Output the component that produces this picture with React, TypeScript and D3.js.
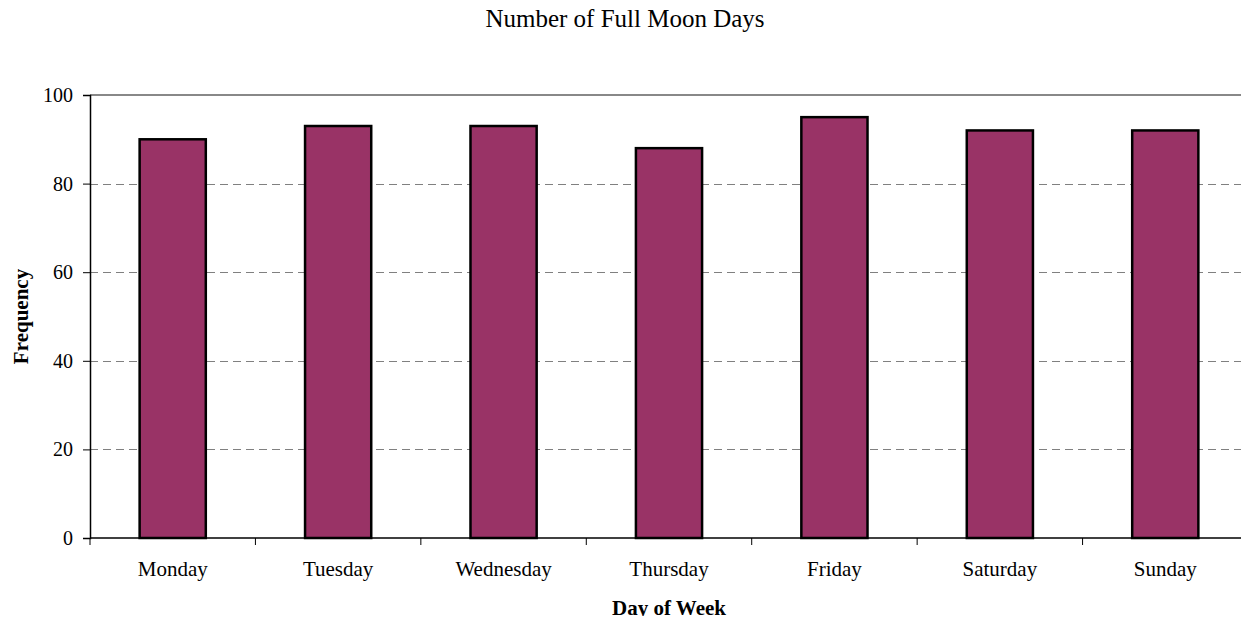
import React, { useEffect, useRef } from "react";
import * as d3 from "d3";

const days = ["Monday", "Tuesday", "Wednesday", "Thursday", "Friday", "Saturday", "Sunday"];
const frequency = [90, 93, 93, 88, 95, 92, 92];
const yTicks = [0, 20, 40, 60, 80, 100];

const App = () => {
  const ref = useRef<SVGSVGElement>(null);

  useEffect(() => {
    const width = 1249;
    const height = 624;
    const margin = { top: 95, right: 1, bottom: 86, left: 90 };
    const w = width - margin.left - margin.right;
    const h = height - margin.top - margin.bottom;
    const font = "'Liberation Serif', 'Times New Roman', serif";

    const svg = d3.select(ref.current);
    svg.selectAll("*").remove();

    // title
    svg
      .append("text")
      .attr("x", 625)
      .attr("y", 27)
      .attr("text-anchor", "middle")
      .style("font-family", font)
      .style("font-size", "25px")
      .text("Number of Full Moon Days");

    const g = svg.append("g").attr("transform", "translate(" + margin.left + "," + margin.top + ")");

    const x = d3.scaleBand().domain(days).range([0, w]).paddingInner(0.6).paddingOuter(0.3);
    const y = d3.scaleLinear().domain([0, 100]).range([h, 0]);

    // right border of plot area
    g.append("line")
      .attr("x1", w)
      .attr("x2", w)
      .attr("y1", 0)
      .attr("y2", h)
      .attr("stroke", "#c8c8c8")
      .attr("stroke-width", 1);

    // gridlines
    g.selectAll(".grid")
      .data(yTicks.filter((t) => t > 0 && t < 100))
      .enter()
      .append("line")
      .attr("x1", 0)
      .attr("x2", w)
      .attr("y1", (d) => Math.round(y(d)) + 0.5)
      .attr("y2", (d) => Math.round(y(d)) + 0.5)
      .attr("stroke", "#808080")
      .attr("stroke-width", 1)
      .attr("stroke-dasharray", "8,5");

    // top line
    g.append("line")
      .attr("x1", 0)
      .attr("x2", w)
      .attr("y1", y(100))
      .attr("y2", y(100))
      .attr("stroke", "#888")
      .attr("stroke-width", 2);

    // bars
    g.selectAll(".bar")
      .data(frequency)
      .enter()
      .append("rect")
      .attr("x", (d, i) => x(days[i])!)
      .attr("y", (d) => y(d))
      .attr("width", x.bandwidth())
      .attr("height", (d) => h - y(d))
      .attr("fill", "#993366")
      .attr("stroke", "#000")
      .attr("stroke-width", 2.5);

    // y axis
    const yAxis = g
      .append("g")
      .call(d3.axisLeft(y).tickValues(yTicks).tickSize(7).tickPadding(10).tickFormat(d3.format("d")));
    yAxis.select(".domain").attr("stroke", "#000").attr("stroke-width", 1.5);
    yAxis.selectAll("text").style("font-family", font).style("font-size", "20px").attr("fill", "#000");

    // x axis
    const step = x.step();
    const boundaries = d3.range(days.length + 1).map((i) => i * step);
    const xAxis = g.append("g").attr("transform", "translate(0," + h + ")");
    xAxis
      .append("line")
      .attr("x1", 0)
      .attr("x2", w)
      .attr("stroke", "#000")
      .attr("stroke-width", 1.5);
    xAxis
      .selectAll(".tick")
      .data(boundaries)
      .enter()
      .append("line")
      .attr("x1", (d) => d)
      .attr("x2", (d) => d)
      .attr("y1", 0)
      .attr("y2", 7)
      .attr("stroke", "#000");
    xAxis
      .selectAll(".lbl")
      .data(days)
      .enter()
      .append("text")
      .attr("x", (d) => x(d)! + x.bandwidth() / 2)
      .attr("y", 38)
      .attr("text-anchor", "middle")
      .style("font-family", font)
      .style("font-size", "21px")
      .text((d) => d);

    // axis titles
    svg
      .append("text")
      .attr("x", margin.left + w / 2)
      .attr("y", 615)
      .attr("text-anchor", "middle")
      .style("font-family", font)
      .style("font-size", "21px")
      .style("font-weight", "bold")
      .text("Day of Week");

    svg
      .append("text")
      .attr("transform", "translate(28," + (margin.top + h / 2) + ") rotate(-90)")
      .attr("text-anchor", "middle")
      .style("font-family", font)
      .style("font-size", "21px")
      .style("font-weight", "bold")
      .text("Frequency");
  }, []);

  return (
    <div style={{ margin: -8 }}>
      <svg ref={ref} width={1249} height={624} style={{ display: "block" }}></svg>
    </div>
  );
};

export default App;
